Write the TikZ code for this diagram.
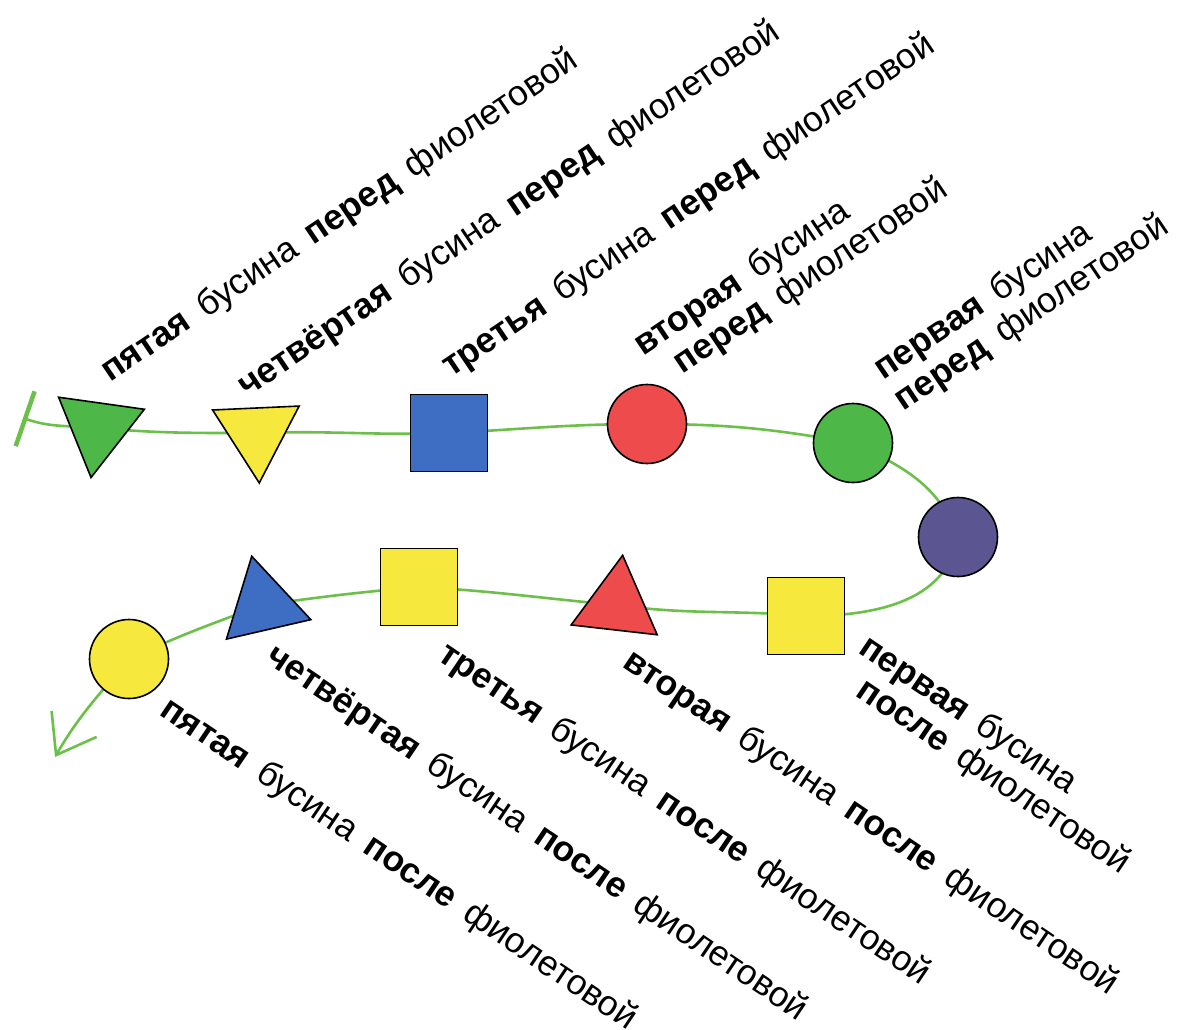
\documentclass[tikz,border=0pt]{standalone}
\usepackage{fontspec}
\setmainfont{Liberation Sans}[WordSpace=1.6]
\usetikzlibrary{shapes.geometric, arrows.meta, backgrounds}

\definecolor{beadgreen}{HTML}{4DB748}
\definecolor{beadyellow}{HTML}{F6E83C}
\definecolor{beadblue}{HTML}{3D6EC3}
\definecolor{beadred}{HTML}{EE4C4C}
\definecolor{beadviolet}{HTML}{5B5591}
\definecolor{thread}{HTML}{6CC04A}

\tikzset{
  bead/.style={draw=black, line width=1.6pt, inner sep=0pt},
  ball/.style={bead, circle, minimum size=79pt},
  cube/.style={bead, rectangle, minimum size=77pt},
  tri/.style={bead, regular polygon, regular polygon sides=3, minimum size=100pt},
  uplabel/.style={font=\fontsize{35.5}{37}\selectfont, anchor=base west, rotate=34, inner sep=0pt},
  downlabel/.style={font=\fontsize{35.5}{37}\selectfont, anchor=base west, rotate=-34, inner sep=0pt},
}

\begin{document}
\begin{tikzpicture}[x=1pt, y=1pt]
\useasboundingbox (0,0) rectangle (1181,-1029);
% beads before the violet one
\node[tri, fill=beadgreen, rotate=172] (b5) at (98,-428) {};
\node[tri, fill=beadyellow, rotate=182.6] (b4) at (257,-433) {};
\node[cube, fill=beadblue] (b3) at (449,-433) {};
\node[ball, fill=beadred] (b2) at (647,-424) {};
\node[ball, fill=beadgreen] (b1) at (853,-443) {};
\node[ball, fill=beadviolet] (v) at (958,-537) {};
% beads after the violet one
\node[cube, fill=beadyellow] (a1) at (806,-616) {};
\node[tri, fill=beadred, rotate=-6.5] (a2) at (617,-605) {};
\node[cube, fill=beadyellow] (a3) at (419,-587) {};
\node[tri, fill=beadblue, rotate=13] (a4) at (263,-605) {};
\node[ball, fill=beadyellow] (a5) at (129,-659) {};
% the thread
\coordinate (start) at (23,-418);
\coordinate (tip) at (55,-757);
\begin{scope}[on background layer]
\draw[thread, line width=2.6pt, {Bar[width=58pt, line width=4.5pt]}-{Straight Barb[length=36pt, width=52pt]}]
  (start) to[out=-19, in=175] (b5.center)
  to[out=-5, in=180] (b4.center)
  to[out=2, in=182] (b3.center)
  to[out=3, in=180] (b2.center)
  to[out=0, in=170] (b1.center)
  to[out=-25, in=110] (v.center)
  to[out=-100, in=0] (a1.center)
  to[out=175, in=-8] (a2.center)
  to[out=175, in=-3] (a3.center)
  to[out=-175, in=8] (a4.center)
  to[out=-160, in=25] (a5.center)
  to[out=-130, in=60] (tip);
\end{scope}
% labels
\node[uplabel] (t5) at (110,-383) {\textbf{пятая} бусина \textbf{перед} фиолетовой};
\node[uplabel] (t4) at (247,-398) {\textbf{четвёртая} бусина \textbf{перед} фиолетовой};
\node[uplabel] (t3) at (451,-378) {\textbf{третья} бусина \textbf{перед} фиолетовой};
\node[uplabel] (t2) at (643,-357) {\vtop{\hbox{\textbf{вторая} бусина}\hbox{\hspace*{23pt}\textbf{перед} фиолетовой}}};
\node[uplabel] (t1) at (883,-381) {\vtop{\hbox{\textbf{первая} бусина}\hbox{\textbf{перед} фиолетовой}}};
\node[downlabel] (s5) at (158,-714) {\textbf{пятая} бусина \textbf{после} фиолетовой};
\node[downlabel] (s4) at (264,-661) {\textbf{четвёртая} бусина \textbf{после} фиолетовой};
\node[downlabel] (s3) at (436,-659) {\textbf{третья} бусина \textbf{после} фиолетовой};
\node[downlabel] (s2) at (621,-666) {\textbf{вторая} бусина \textbf{после} фиолетовой};
\node[downlabel] (s1) at (857,-652) {\vtop{\hbox{\textbf{первая} бусина}\hbox{\hspace*{22pt}\textbf{после} фиолетовой}}};
\end{tikzpicture}
\end{document}
